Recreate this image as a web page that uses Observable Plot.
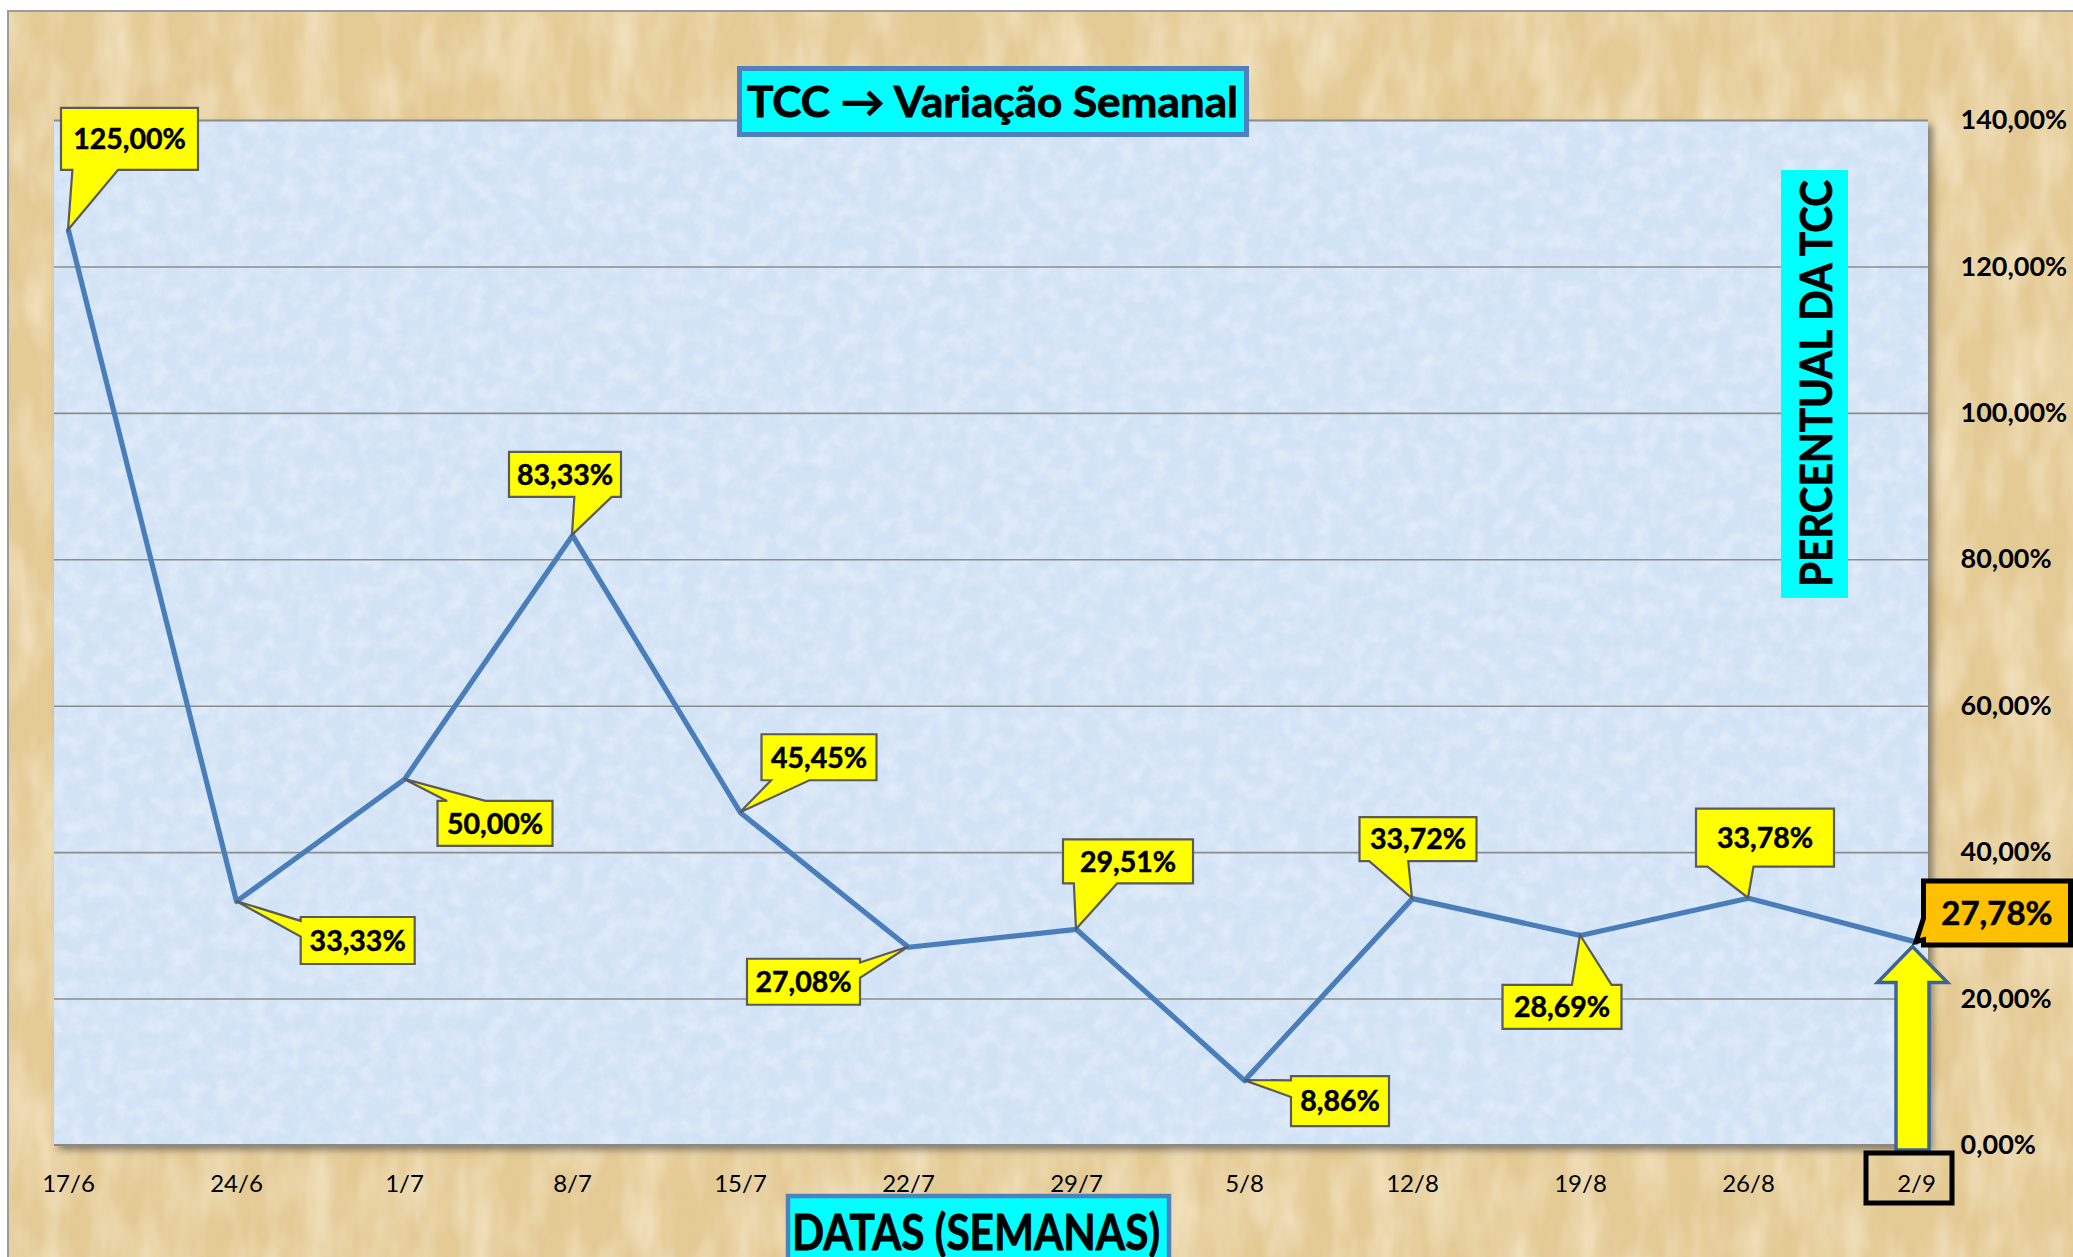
<!DOCTYPE html>
<html>
<head>
<meta charset="utf-8">
<script src="https://cdn.jsdelivr.net/npm/d3@7"></script>
<script src="https://cdn.jsdelivr.net/npm/@observablehq/plot@0.6"></script>
<style>
  html, body { margin: 0; padding: 0; background: #fff; }
  #chart svg { display: block; }
</style>
</head>
<body>
<div id="chart"></div>
<script>
// ---------- DATA ----------
const dates  = ["17/6", "24/6", "1/7", "8/7", "15/7", "22/7", "29/7", "5/8", "12/8", "19/8", "26/8", "2/9"];
const values = [125.00, 33.33, 50.00, 83.33, 45.45, 27.08, 29.51, 8.86, 33.72, 28.69, 33.78, 27.78];
const yTicks = [0, 20, 40, 60, 80, 100, 120, 140];
const yGrid  = [20, 40, 60, 80, 100, 120];
const titleText  = "TCC → Variação Semanal";
const xTitleText = "DATAS (SEMANAS)";
const yTitleText = "PERCENTUAL DA TCC";
const highlightDate = "2/9";

// ---------- LAYOUT / STYLE (callout offsets from their data point, box sizes) ----------
const calloutLayout = [
  {dx: 61.5,  dy: -91,   w: 137, h: 62, fs: 28.5},
  {dx: 121.7, dy: 39.5,  w: 114, h: 47, fs: 28.5},
  {dx: 91,    dy: 44.5,  w: 115, h: 45, fs: 28.5},
  {dx: -7,    dy: -60.5, w: 112, h: 45, fs: 28.5},
  {dx: 79,    dy: -55,   w: 115, h: 46, fs: 28.5},
  {dx: -104.5,dy: 35,    w: 113, h: 46, fs: 28.5},
  {dx: 52,    dy: -67.5, w: 130, h: 44, fs: 28.5},
  {dx: 96,    dy: 21,    w: 98,  h: 50, fs: 28.5},
  {dx: 6,     dy: -59,   w: 117, h: 44, fs: 28.5},
  {dx: -18,   dy: 72,    w: 119, h: 44, fs: 28.5},
  {dx: 17,    dy: -60,   w: 138, h: 58, fs: 28.5},
  {dx: 81,    dy: -28.6, w: 147, h: 64, fs: 33, fill: "#FFC000", stroke: "#000", sw: 5}
];

const FONT = "Lato, 'Open Sans', 'DejaVu Sans', sans-serif";
const data = dates.map((d, i) => ({date: d, value: values[i]}));
const fmt = v => v.toFixed(2).replace(".", ",") + "%";

function calloutPath(cx, cy, w, h, tx, ty) {
  const l = cx - w / 2, r = cx + w / 2, t = cy - h / 2, b = cy + h / 2;
  const nx = (tx - cx) / w, ny = (ty - cy) / h;
  if (Math.abs(nx) <= 0.5 && Math.abs(ny) <= 0.5) return `M${l},${t}H${r}V${b}H${l}Z`;
  if (Math.abs(nx) > Math.abs(ny)) {
    const y1 = ny < 0 ? t + h / 12 : t + 7 * h / 12;
    const y2 = ny < 0 ? t + 5 * h / 12 : t + 11 * h / 12;
    if (nx < 0) return `M${l},${t}H${r}V${b}H${l}V${y2}L${tx},${ty}L${l},${y1}Z`;
    return `M${l},${t}H${r}V${y1}L${tx},${ty}L${r},${y2}V${b}H${l}Z`;
  } else {
    const x1 = nx < 0 ? l + w / 12 : l + 7 * w / 12;
    const x2 = nx < 0 ? l + 5 * w / 12 : l + 11 * w / 12;
    if (ny < 0) return `M${l},${t}H${x1}L${tx},${ty}L${x2},${t}H${r}V${b}H${l}Z`;
    return `M${l},${t}H${r}V${b}H${x2}L${tx},${ty}L${x1},${b}H${l}Z`;
  }
}

// parchment background
function backgroundMark(index, scales, values, dims) {
  const W = dims.width, H = dims.height;
  const g = d3.create("svg:g");
  const defs = g.append("defs");
  const f1 = defs.append("filter").attr("id", "paperLight").attr("filterUnits", "userSpaceOnUse")
    .attr("x", 8).attr("y", 11).attr("width", W - 8).attr("height", H - 11);
  f1.append("feTurbulence").attr("type", "fractalNoise").attr("baseFrequency", "0.03 0.012").attr("numOctaves", 3).attr("seed", 4);
  f1.append("feColorMatrix").attr("type", "matrix").attr("values", "0 0 0 0 1  0 0 0 0 0.95  0 0 0 0 0.82  1.6 0 0 0 -0.55");
  const f2 = defs.append("filter").attr("id", "paperDark").attr("filterUnits", "userSpaceOnUse")
    .attr("x", 8).attr("y", 11).attr("width", W - 8).attr("height", H - 11);
  f2.append("feTurbulence").attr("type", "fractalNoise").attr("baseFrequency", "0.12 0.01").attr("numOctaves", 2).attr("seed", 11);
  f2.append("feColorMatrix").attr("type", "matrix").attr("values", "0 0 0 0 0.72  0 0 0 0 0.58  0 0 0 0 0.33  0 1.6 0 0 -0.75");
  g.append("rect").attr("x", 0).attr("y", 0).attr("width", W).attr("height", H).attr("fill", "#fff");
  g.append("rect").attr("x", 8).attr("y", 11).attr("width", W - 8).attr("height", H - 11).attr("fill", "#E4CA94");
  g.append("rect").attr("x", 8).attr("y", 11).attr("width", W - 8).attr("height", H - 11).attr("fill", "#000").attr("filter", "url(#paperLight)").attr("opacity", 0.6);
  g.append("rect").attr("x", 8).attr("y", 11).attr("width", W - 8).attr("height", H - 11).attr("fill", "#000").attr("filter", "url(#paperDark)").attr("opacity", 0.25);
  g.append("rect").attr("x", 8).attr("y", 11).attr("width", W + 10).attr("height", H + 10).attr("fill", "none").attr("stroke", "#9C9C9C").attr("stroke-width", 2);
  return g.node();
}

// blue plot area with shadow
function frameMark(index, scales, values, dims) {
  const x0 = dims.marginLeft, x1 = dims.width - dims.marginRight;
  const y0 = dims.marginTop, y1 = dims.height - dims.marginBottom;
  const g = d3.create("svg:g");
  const defs = g.append("defs");
  const sh = defs.append("filter").attr("id", "frameShadow").attr("x", "-5%").attr("y", "-5%").attr("width", "112%").attr("height", "112%");
  sh.append("feDropShadow").attr("dx", 5).attr("dy", 5).attr("stdDeviation", 3.5).attr("flood-color", "#3a3a3a").attr("flood-opacity", 0.55);
  const bn = defs.append("filter").attr("id", "blueNoise").attr("filterUnits", "userSpaceOnUse")
    .attr("x", x0).attr("y", y0).attr("width", x1 - x0).attr("height", y1 - y0);
  bn.append("feTurbulence").attr("type", "fractalNoise").attr("baseFrequency", "0.06").attr("numOctaves", 4).attr("seed", 2);
  bn.append("feColorMatrix").attr("type", "matrix").attr("values", "0 0 0 0 1  0 0 0 0 1  0 0 0 0 1  1.5 0 0 0 -0.55");
  g.append("rect").attr("x", x0).attr("y", y0).attr("width", x1 - x0).attr("height", y1 - y0)
    .attr("fill", "#D2E3F6").attr("filter", "url(#frameShadow)");
  g.append("rect").attr("x", x0).attr("y", y0).attr("width", x1 - x0).attr("height", y1 - y0)
    .attr("fill", "#000").attr("filter", "url(#blueNoise)").attr("opacity", 0.45);
  g.append("line").attr("x1", x0).attr("x2", x1).attr("y1", y1).attr("y2", y1).attr("stroke", "#8a8a8a").attr("stroke-width", 2);
  return g.node();
}

// y-axis title (cyan vertical box)
function yTitleMark() {
  const g = d3.create("svg:g");
  g.append("rect").attr("x", 1781).attr("y", 170).attr("width", 67).attr("height", 428).attr("fill", "#00FFFF");
  g.append("text").attr("transform", "translate(1832,383.5) rotate(-90)")
    .attr("x", -203.5).attr("y", 0).attr("text-anchor", "start")
    .attr("font-family", FONT).attr("font-weight", "bold").attr("font-size", 44)
    .attr("textLength", 407).attr("lengthAdjust", "spacingAndGlyphs")
    .attr("fill", "#000").attr("stroke", "#000").attr("stroke-width", 0.8).text(yTitleText);
  return g.node();
}

// yellow up arrow pointing to the last point
function arrowMark(index, {x, y}) {
  const last = data[data.length - 1];
  const px = x(last.date) - 3.5, py = y(last.value);
  const tipY = py + 5, headY = py + 41, bottom = y(0) + 5;
  const hw = 35, sw = 16.5;
  const d = `M${px},${tipY}L${px + hw},${headY}H${px + sw}V${bottom}H${px - sw}V${headY}H${px - hw}Z`;
  const g = d3.create("svg:g");
  g.append("path").attr("d", d).attr("fill", "#FFFF00").attr("stroke", "#3D6496").attr("stroke-width", 3.5).attr("stroke-linejoin", "miter");
  return g.node();
}

// callouts
function calloutMark(index, {x, y}) {
  const g = d3.create("svg:g");
  data.forEach((d, i) => {
    const L = calloutLayout[i];
    const tx = x(d.date), ty = y(d.value);
    const cx = tx + L.dx, cy = ty + L.dy;
    g.append("path").attr("d", calloutPath(cx, cy, L.w, L.h, tx, ty))
      .attr("fill", L.fill || "#FFFF00").attr("stroke", L.stroke || "#5A5A5A")
      .attr("stroke-width", L.sw || 2.2).attr("stroke-linejoin", "miter");
    g.append("text").attr("x", cx).attr("y", cy + 0.36 * L.fs)
      .attr("text-anchor", "middle").attr("font-family", FONT).attr("font-weight", "bold")
      .attr("font-size", L.fs).attr("fill", "#000").attr("stroke", "#000").attr("stroke-width", 0.5)
      .text(fmt(d.value));
  });
  return g.node();
}

// black box around highlighted date tick
function highlightBoxMark(index, {x}) {
  const cx = x(highlightDate);
  const g = d3.create("svg:g");
  g.append("rect").attr("x", cx - 50).attr("y", 1153).attr("width", 86).attr("height", 50)
    .attr("fill", "none").attr("stroke", "#000").attr("stroke-width", 5);
  return g.node();
}

// main title and x-axis title boxes
function titlesMark() {
  const g = d3.create("svg:g");
  g.append("rect").attr("x", 739.5).attr("y", 68.5).attr("width", 507).attr("height", 66)
    .attr("fill", "#00FFFF").attr("stroke", "#4F81BD").attr("stroke-width", 5);
  g.append("text").attr("x", 747).attr("y", 116.5).attr("text-anchor", "start")
    .attr("font-family", FONT).attr("font-weight", "bold").attr("font-size", 42)
    .attr("textLength", 491).attr("lengthAdjust", "spacingAndGlyphs")
    .attr("fill", "#000").attr("stroke", "#000").attr("stroke-width", 0.8).text(titleText);
  g.append("rect").attr("x", 788).attr("y", 1196).attr("width", 381).attr("height", 80)
    .attr("fill", "#00FFFF").attr("stroke", "#4F81BD").attr("stroke-width", 4.5);
  g.append("text").attr("x", 792).attr("y", 1250).attr("text-anchor", "start")
    .attr("font-family", FONT).attr("font-weight", "bold").attr("font-size", 49)
    .attr("textLength", 368).attr("lengthAdjust", "spacingAndGlyphs")
    .attr("fill", "#000").attr("stroke", "#000").attr("stroke-width", 0.8).text(xTitleText);
  return g.node();
}

const chart = Plot.plot({
  width: 2073,
  height: 1257,
  marginLeft: 54,
  marginRight: 145,
  marginTop: 120,
  marginBottom: 112,
  style: {fontFamily: FONT, background: "none", overflow: "visible", color: "#000"},
  x: {type: "point", domain: dates, padding: 0, insetLeft: 12, insetRight: 11},
  y: {domain: [0, 140]},
  marks: [
    backgroundMark,
    frameMark,
    Plot.gridY(yGrid, {stroke: "#8C8C8C", strokeOpacity: 1, strokeWidth: 1.6}),
    Plot.ruleY([140], {stroke: "#8C8C8C", strokeWidth: 2}),
    yTitleMark,
    Plot.line(data, {x: "date", y: "value", stroke: "#4A7EBB", strokeWidth: 5.2, strokeLinejoin: "round"}),
    arrowMark,
    calloutMark,
    Plot.axisX({tickSize: 0, tickPadding: 29, fontSize: 24, fill: "#000", label: null, fontFamily: FONT}),
    Plot.axisY({anchor: "right", ticks: yTicks, tickFormat: fmt, tickSize: 0, tickPadding: 32,
                fontSize: 27, fontWeight: "bold", fill: "#000", label: null, fontFamily: FONT}),
    highlightBoxMark,
    titlesMark
  ]
});
document.getElementById("chart").appendChild(chart);
</script>
</body>
</html>
